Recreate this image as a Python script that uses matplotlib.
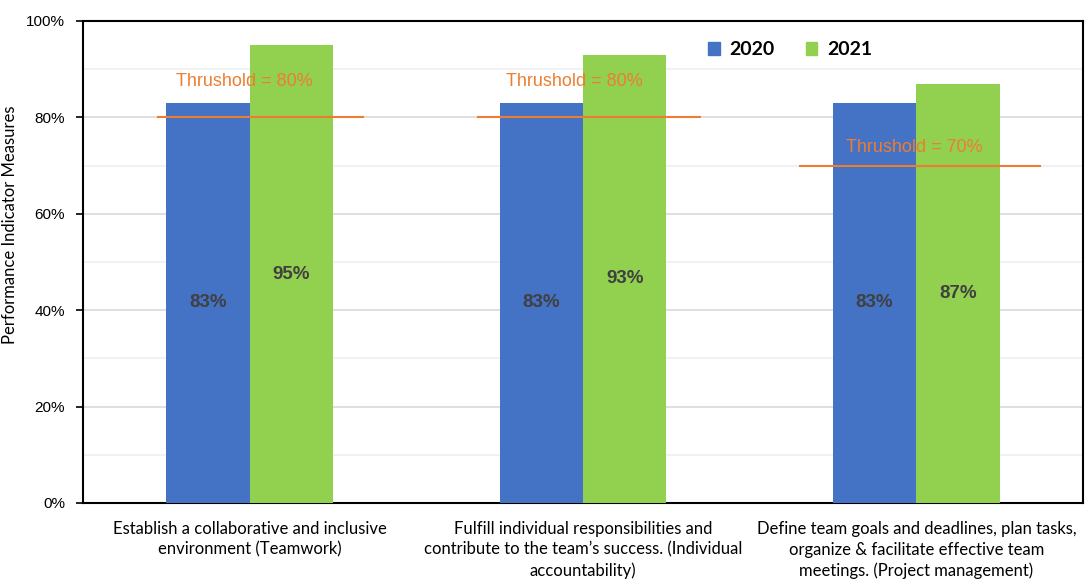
import matplotlib
matplotlib.use("Agg")
import matplotlib.pyplot as plt
import numpy as np
from matplotlib.patches import Patch
from matplotlib.ticker import MultipleLocator, FuncFormatter

categories = [
    "Establish a collaborative and inclusive\nenvironment (Teamwork)",
    "Fulfill individual responsibilities and\ncontribute to the team\u2019s success. (Individual\naccountability)",
    "Define team goals and deadlines, plan tasks,\norganize & facilitate effective team\nmeetings. (Project management)",
]
years = ["2020", "2021"]
values_2020 = [83, 83, 83]
values_2021 = [95, 93, 87]
thresholds = [80, 80, 70]
threshold_labels = ["Thrushold = 80%", "Thrushold = 80%", "Thrushold = 70%"]

blue = "#4472C4"
green = "#92D050"
orange = "#ED7D31"
label_gray = "#404040"

fig = plt.figure(figsize=(10.87, 5.81), dpi=100)
ax = fig.add_axes([0.0764, 0.1343, 0.9199, 0.8296])

x = np.arange(len(categories))
w = 0.25
ax.bar(x - w / 2, values_2020, width=w, color=blue, zorder=3)
ax.bar(x + w / 2, values_2021, width=w, color=green, zorder=3)

for xi, v in zip(x - w / 2, values_2020):
    ax.text(xi, v / 2, f"{v}%", ha="center", va="center", fontsize=13.5,
            fontweight="bold", color=label_gray, family="Liberation Sans", zorder=5)
for xi, v in zip(x + w / 2, values_2021):
    ax.text(xi, v / 2, f"{v}%", ha="center", va="center", fontsize=13.5,
            fontweight="bold", color=label_gray, family="Liberation Sans", zorder=5)

# threshold markers spanning each group
line_spans = [(-0.275, 0.34), (0.685, 1.351), (1.651, 2.371)]
text_x = [-0.015, 0.975, 1.995]
text_offsets = [7.5, 7.5, 3.8]
for (x0, x1), t, lbl, tx, off in zip(line_spans, thresholds, threshold_labels, text_x, text_offsets):
    ax.plot([x0, x1], [t, t], color=orange, lw=1.5, zorder=4)
    ax.text(tx, t + off, lbl, ha="center", va="center", fontsize=13,
            color=orange, family="Liberation Sans", zorder=5)

ax.set_xlim(-0.5, 2.5)
ax.set_ylim(0, 100)
ax.yaxis.set_major_locator(MultipleLocator(20))
ax.yaxis.set_minor_locator(MultipleLocator(10))
ax.yaxis.set_major_formatter(FuncFormatter(lambda v, p: f"{int(v)}%"))
ax.grid(axis="y", which="major", color="#d9d9d9", lw=1.2, zorder=0)
ax.grid(axis="y", which="minor", color="#efefef", lw=1.2, zorder=0)
ax.tick_params(axis="y", which="major", length=5, width=1.2, labelsize=11, pad=8)
ax.tick_params(axis="y", which="minor", length=0)
for lbl in ax.get_yticklabels():
    lbl.set_family("Liberation Sans")

ax.set_xticks(x)
ax.set_xticklabels(categories, fontsize=12, family="Lato", linespacing=1.35)
ax.tick_params(axis="x", length=0, pad=13)

for s in ax.spines.values():
    s.set_color("black")
    s.set_linewidth(1.5)

ax.set_ylabel("Performance Indicator Measures", fontsize=12, family="Lato")
ax.yaxis.set_label_coords(-0.065, 0.577)

handles = [Patch(color=blue), Patch(color=green)]
ax.legend(handles, years, loc="center", bbox_to_anchor=(0.707, 0.94), ncol=2,
          frameon=False, handlelength=0.6, handleheight=0.7, handletextpad=0.5,
          columnspacing=1.6, prop={"family": "Lato", "weight": "bold", "size": 14})

fig.savefig("out.png", dpi=100)
